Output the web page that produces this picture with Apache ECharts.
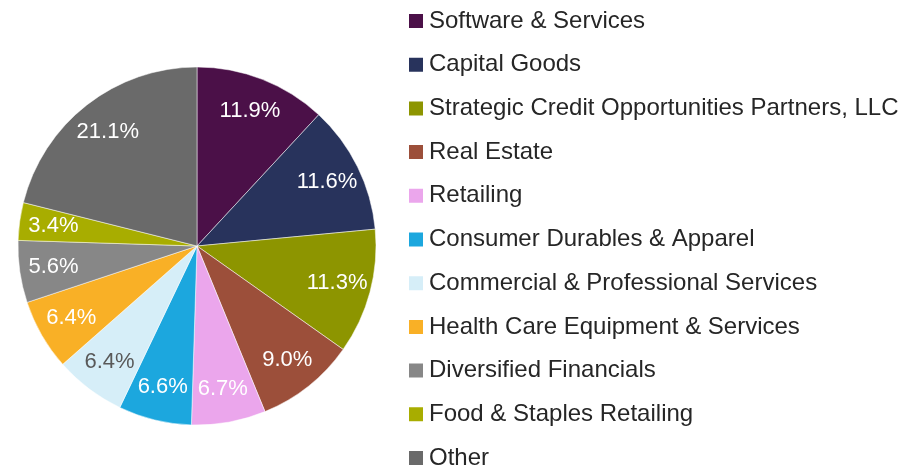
<!DOCTYPE html>
<html>
<head>
<meta charset="utf-8">
<script src="https://cdn.jsdelivr.net/npm/echarts@6/dist/echarts.min.js"></script>
<style>
  html, body { margin: 0; padding: 0; background: #fff; }
  #main { width: 900px; height: 466px; }
</style>
</head>
<body>
<div id="main"></div>
<script>
// sectors, clockwise from 12 o'clock
const categories = [
  "Software & Services",
  "Capital Goods",
  "Strategic Credit Opportunities Partners, LLC",
  "Real Estate",
  "Retailing",
  "Consumer Durables & Apparel",
  "Commercial & Professional Services",
  "Health Care Equipment & Services",
  "Diversified Financials",
  "Food & Staples Retailing",
  "Other"
];
const shares = [11.9, 11.6, 11.3, 9.0, 6.7, 6.6, 6.4, 6.4, 5.6, 3.4, 21.1];
const colors = [
  "#4b1048", "#28335c", "#8d9500", "#9c4f3a", "#eba6ec", "#1ca7de",
  "#d6eef8", "#f9b026", "#878787", "#a8ad00", "#6a6a6a"
];
const labelColors = [
  "#fff", "#fff", "#fff", "#fff", "#fff", "#fff",
  "#595959", "#fff", "#fff", "#fff", "#fff"
];

const chart = echarts.init(document.getElementById("main"));

const pieData = categories.map((name, i) => ({
  name: name,
  value: shares[i],
  itemStyle: { color: colors[i] }
}));

// second, transparent ring only used to place the % labels at ~0.8 radius
const labelData = categories.map((name, i) => ({
  name: name,
  value: shares[i],
  label: { color: labelColors[i] }
}));

chart.setOption({
  animation: false,
  legend: {
    orient: "vertical",
    left: 402,
    top: 4,
    height: 500,
    icon: "rect",
    itemWidth: 16,
    itemHeight: 16,
    itemGap: 19.7,
    selectedMode: false,
    data: categories,
    textStyle: {
      fontFamily: "Liberation Sans, Arial, sans-serif",
      fontSize: 24,
      lineHeight: 24,
      color: "#262626"
    }
  },
  series: [
    {
      type: "pie",
      center: [197, 246],
      radius: [0, 179],
      startAngle: 90,
      clockwise: true,
      label: { show: false },
      labelLine: { show: false },
      itemStyle: { borderColor: "#fff", borderWidth: 0.5 },
      emphasis: { disabled: true },
      data: pieData
    },
    {
      type: "pie",
      center: [197, 246],
      radius: [105, 179],
      startAngle: 90,
      clockwise: true,
      silent: true,
      itemStyle: { color: "transparent" },
      label: {
        show: true,
        position: "inside",
        fontFamily: "Liberation Sans, Arial, sans-serif",
        fontSize: 22,
        formatter: p => p.value.toFixed(1) + "%"
      },
      labelLine: { show: false },
      emphasis: { disabled: true },
      data: labelData
    }
  ]
});
</script>
</body>
</html>
